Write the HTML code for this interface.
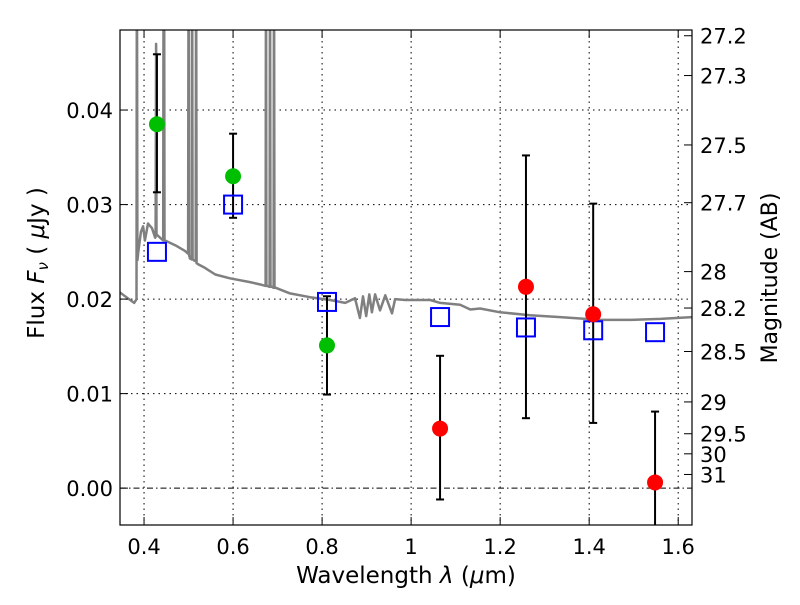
<!DOCTYPE html>
<html><head><meta charset="utf-8"><style>
body{margin:0;background:#fff}
text{font-family:"DejaVu Sans","Liberation Sans",sans-serif;fill:#000}
</style></head><body>
<svg id="chart" width="800" height="600" xmlns="http://www.w3.org/2000/svg">
<defs><clipPath id="clip"><rect x="120" y="30" width="572" height="495"/></clipPath></defs>
<g id="grid"></g>
<g id="plot" clip-path="url(#clip)"></g>
<rect x="120" y="30" width="572" height="495" fill="none" stroke="#000" stroke-width="1.2"/>
<g id="axes"></g>
<text x="406" y="583" font-size="23" text-anchor="middle">Wavelength  <tspan font-style="italic">λ</tspan> (<tspan font-style="italic">μ</tspan>m)</text>
<text transform="translate(44,263) rotate(-90)" font-size="23" text-anchor="middle">Flux  <tspan font-style="italic">F</tspan><tspan font-style="italic" font-size="15" dy="4">ν</tspan><tspan dy="-4">  ( </tspan><tspan font-style="italic">μ</tspan>Jy )</text>
<text transform="translate(777,278) rotate(-90)" font-size="22" text-anchor="middle">Magnitude (AB)</text>
</svg>
<script>
const xTicks=[0.4,0.6,0.8,1.0,1.2,1.4,1.6];
const xTickLabels=["0.4","0.6","0.8","1","1.2","1.4","1.6"];
const yTicks=[0,0.01,0.02,0.03,0.04];
const yTickLabels=["0.00","0.01","0.02","0.03","0.04"];
const magTicks=[27.2,27.3,27.5,27.7,28,28.2,28.5,29,29.5,30,31];
const magTickLabels=["27.2","27.3","27.5","27.7","28","28.2","28.5","29","29.5","30","31"];
const specWl=[0.346,0.369,0.378,0.382,0.383,0.384,0.385,0.387,0.393,0.398,0.402,0.409,0.418,0.425,0.426,0.427,0.428,0.429,0.443,0.444,0.445,0.446,0.447,0.47,0.492,0.499,0.500,0.501,0.503,0.507,0.508,0.509,0.512,0.516,0.517,0.518,0.521,0.537,0.56,0.593,0.638,0.665,0.673,0.674,0.675,0.677,0.682,0.683,0.684,0.687,0.691,0.692,0.693,0.696,0.728,0.773,0.818,0.852,0.874,0.885,0.892,0.899,0.906,0.912,0.919,0.930,0.942,0.957,0.964,0.987,1.043,1.065,1.110,1.133,1.155,1.2,1.267,1.335,1.425,1.492,1.56,1.631];
const specFlux=[0.0207,0.0199,0.0196,0.0199,0.0200,0.06,0.0241,0.0250,0.0271,0.0277,0.0262,0.0280,0.0275,0.0265,0.0266,0.047,0.0268,0.0268,0.0262,0.06,0.06,0.0262,0.0262,0.0257,0.0251,0.0248,0.06,0.0247,0.0243,0.0242,0.06,0.0242,0.0241,0.0240,0.06,0.0238,0.0237,0.0233,0.0226,0.0222,0.0218,0.0215,0.0214,0.06,0.0214,0.0214,0.0213,0.06,0.0213,0.0213,0.0212,0.06,0.0212,0.0212,0.0206,0.0202,0.0199,0.0196,0.0201,0.0180,0.0203,0.0182,0.0205,0.0186,0.0205,0.0188,0.0204,0.0185,0.0200,0.0199,0.0199,0.0196,0.0194,0.0189,0.0190,0.0186,0.0183,0.0181,0.0178,0.0178,0.0179,0.0181];
const greenWl=[0.429,0.600,0.811];
const greenFlux=[0.0385,0.0330,0.0151];
const greenErrHi=[0.0459,0.0375,0.0203];
const greenErrLo=[0.0313,0.0286,0.0099];
const redWl=[1.065,1.258,1.409,1.548];
const redFlux=[0.0063,0.0213,0.0184,0.0006];
const redErrHi=[0.0140,0.0352,0.0301,0.0081];
const redErrLo=[-0.0012,0.0074,0.0069,-0.006];
const modelWl=[0.429,0.600,0.811,1.065,1.258,1.409,1.548];
const modelFlux=[0.0250,0.0300,0.0197,0.0181,0.0170,0.0167,0.0165];

const X0=120,X1=692,Y0=30,Y1=525,xmin=0.346,xmax=1.631,ymin=-0.0039,ymax=0.04847;
const sx=v=>X0+(v-xmin)/(xmax-xmin)*(X1-X0);
const sy=v=>Y1-(v-ymin)/(ymax-ymin)*(Y1-Y0);
const magToFlux=m=>Math.pow(10,(23.9-m)/2.5);
const NS="http://www.w3.org/2000/svg";
function mk(tag,attrs,parent){const e=document.createElementNS(NS,tag);for(const k in attrs)e.setAttribute(k,attrs[k]);parent.appendChild(e);return e;}
const grid=document.getElementById('grid'),plot=document.getElementById('plot'),axes=document.getElementById('axes');

xTicks.forEach((t,i)=>{
  const x=sx(t);
  let g=mk('line',{x1:x,x2:x,y1:Y0,y2:Y1,stroke:'#000','stroke-dasharray':'1.5,4','stroke-width':1},grid);
  
  
  mk('line',{x1:x,x2:x,y1:Y1,y2:Y1-8,stroke:'#000'},axes);
  mk('line',{x1:x,x2:x,y1:Y0,y2:Y0+8,stroke:'#000'},axes);
  let l=mk('text',{x:x,y:554,'font-size':21,'text-anchor':'middle'},axes);
  l.textContent=xTickLabels[i];
  
  
});
yTicks.forEach((t,i)=>{
  const y=sy(t);
  let g=mk('line',{x1:X0,x2:X1,y1:y,y2:y,stroke:'#000','stroke-dasharray':t===0?'6,3,1.5,3':'1.5,4','stroke-width':1},grid);
  
  
  mk('line',{x1:X0,x2:X0+8,y1:y,y2:y,stroke:'#000'},axes);
  let l=mk('text',{x:113,y:y+8,'font-size':21,'text-anchor':'end'},axes);
  l.textContent=yTickLabels[i];
  
  
});
magTicks.forEach((m,i)=>{
  const y=sy(magToFlux(m));
  mk('line',{x1:X1,x2:X1-8,y1:y,y2:y,stroke:'#000'},axes);
  let l=mk('text',{x:700,y:y+8,'font-size':21},axes);
  l.textContent=magTickLabels[i];
  
  
});

let d=specWl.map((w,i)=>(i?'L':'M')+sx(w).toFixed(1)+','+sy(specFlux[i]).toFixed(1)).join('');
let sp=mk('path',{d:d,fill:'none',stroke:'#808080','stroke-width':2.5,'stroke-linejoin':'round'},plot);



function errbar(w,lo,hi){
  const x=sx(w);
  let e=mk('g',{},plot);
  
  
  mk('line',{x1:x,x2:x,y1:sy(lo),y2:sy(hi),stroke:'#000','stroke-width':2},e);
  mk('line',{x1:x-4,x2:x+4,y1:sy(lo),y2:sy(lo),stroke:'#000','stroke-width':2},e);
  mk('line',{x1:x-4,x2:x+4,y1:sy(hi),y2:sy(hi),stroke:'#000','stroke-width':2},e);
}
greenWl.forEach((w,i)=>errbar(w,greenErrLo[i],greenErrHi[i]));
redWl.forEach((w,i)=>errbar(w,redErrLo[i],redErrHi[i]));
modelWl.forEach((w,i)=>{
  let r=mk('rect',{x:sx(w)-9,y:sy(modelFlux[i])-9,width:18,height:18,fill:'none',stroke:'#0000ff','stroke-width':2},plot);
  
  
});
greenWl.forEach((w,i)=>{
  let c=mk('circle',{cx:sx(w),cy:sy(greenFlux[i]),r:8,fill:'#00bf00'},plot);
  
  
});
redWl.forEach((w,i)=>{
  let c=mk('circle',{cx:sx(w),cy:sy(redFlux[i]),r:8,fill:'#ff0000'},plot);
  
  
});
</script>
</body></html>
